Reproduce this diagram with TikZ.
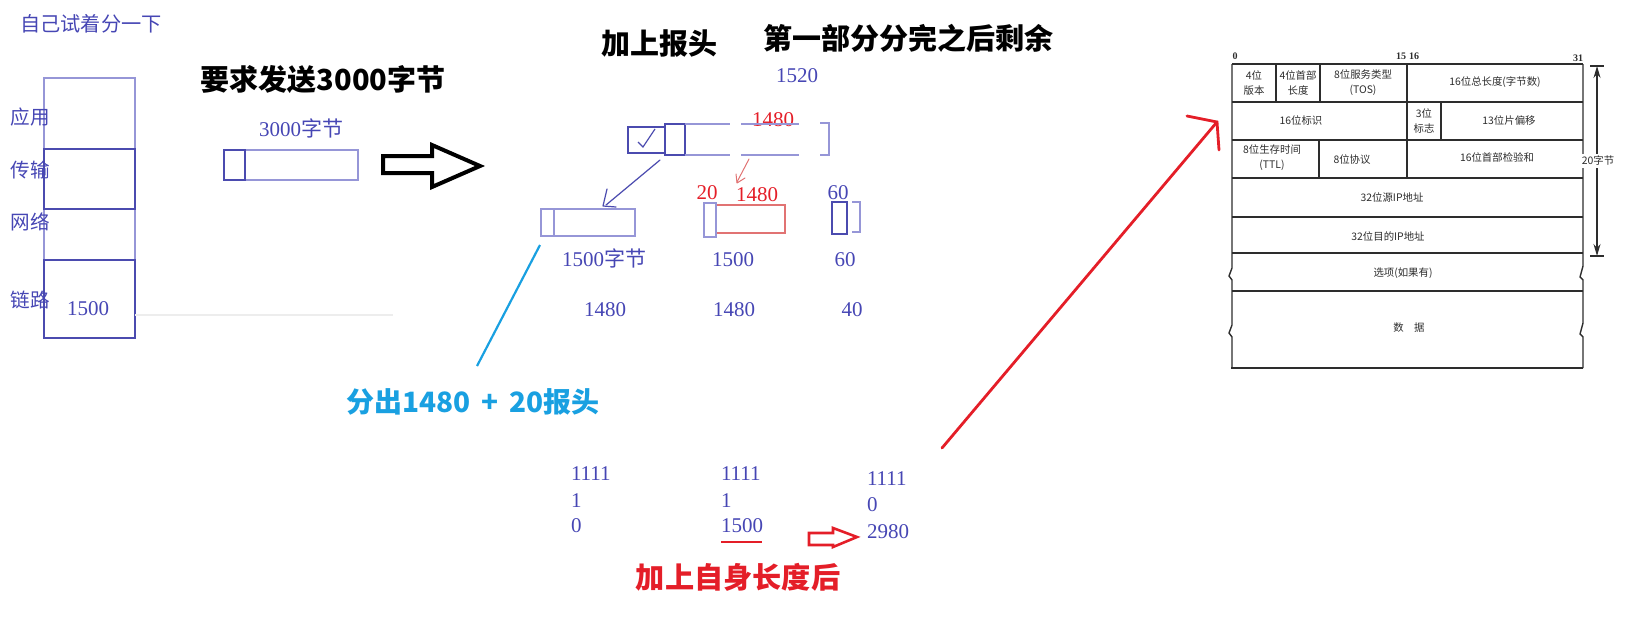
\documentclass[tikz,border=0pt]{standalone}
\usepackage{fontspec}
\setmainfont{Liberation Serif}
\newfontfamily\cjk{Noto Sans CJK SC}
\usetikzlibrary{arrows.meta}
\definecolor{tblue}{RGB}{70,70,180}
\definecolor{lblue}{RGB}{150,150,215}
\definecolor{dblue}{RGB}{75,75,175}
\definecolor{tred}{RGB}{228,30,40}
\definecolor{lred}{RGB}{225,115,115}
\definecolor{tcyan}{RGB}{25,160,225}
\definecolor{tbl}{RGB}{45,45,45}
\newcommand{\zh}[1]{{\cjk #1}}
\begin{document}
\begin{tikzpicture}[x=0.5pt,y=-0.5pt,
  every node/.style={inner sep=0pt, outer sep=0pt},
  lab/.style={font=\fontsize{10.5}{12}\selectfont, text=tblue},
  zhlab/.style={font=\cjk\fontsize{9.8}{11}\selectfont, text=tblue},
  big/.style={font=\cjk\bfseries\fontsize{14.5}{16}\selectfont},
  tb/.style={font=\cjk\fontsize{5.2}{7.5}\selectfont, align=center, text=tbl},
  tbnum/.style={font=\bfseries\fontsize{5}{6}\selectfont, text=tbl},
  lbox/.style={draw=lblue, line width=0.6pt},
  dbox/.style={draw=dblue, line width=0.75pt},
  tline/.style={draw=tbl, line width=0.7pt},
  hollow/.style={draw=black, line width=2pt, line join=miter},
]
\useasboundingbox (0,0) rectangle (1637,632);

% ---------- left: layer stack ----------
\node[font=\cjk\fontsize{10.1}{12}\selectfont, text=tblue] (self) at (91,24) {自己试着分一下};
\draw[lbox] (44,78) rectangle (135,338);
\draw[dbox] (44,149) rectangle (135,209);
\draw[dbox] (44,260) rectangle (135,338);
\draw[draw=black!7, line width=0.6pt] (135,315) -- (393,315);
\node[zhlab] (app) at (30,117) {应用};
\node[zhlab] (trans) at (30,170) {传输};
\node[zhlab] (net) at (30,222) {网络};
\node[zhlab] (link) at (30,300) {链路};
\node[lab] (mtu) at (88,309) {1500};

% ---------- send 3000 bytes ----------
\node[big] (req) at (323,80) {要求发送3000字节};
\node[lab] (l3000) at (301,128) {3000\zh{字节}};
\draw[lbox] (224,150) rectangle (358,180);
\draw[dbox] (224,150) rectangle (245,180);
\draw[hollow] (383,156) -- (432,156) -- (432,145) -- (480,166) -- (432,187) -- (432,173) -- (383,173) -- cycle;

% ---------- titles ----------
\node[big] (addhdr) at (659,44) {加上报头};
\node[big] (rest) at (908,38) {第一部分分完之后剩余};
\node[lab] (l1520) at (797,76) {1520};

% ---------- top packet ----------
\node[lab, text=tred] (r1480a) at (773,120) {1480};
\draw[draw=dblue, line width=0.6pt] (628,127) rectangle (665,153);
\draw[draw=dblue, line width=0.6pt] (638,142) -- (643,147) -- (655,129);
\draw[draw=dblue, line width=0.9pt] (665,124) rectangle (685,155);
\draw[lbox] (685,124) -- (730,124) (741,124) -- (799,124);
\draw[lbox] (685,155) -- (730,155) (741,155) -- (799,155);
\draw[lbox] (820,123) -- (829,123) -- (829,155) -- (820,155);

% ---------- fragments ----------
\draw[lbox] (541,209) rectangle (635,236);
\draw[lbox] (554,209) -- (554,236);
\node[lab] (l1500b) at (604,258) {1500\zh{字节}};
\node[lab] (l1480a) at (605,310) {1480};

\node[lab, text=tred] (r20) at (707,193) {20};
\node[lab, text=tred] (r1480b) at (757,195) {1480};
\draw[draw=lred, line width=0.6pt] (716,205) rectangle (785,233);
\draw[draw=lblue, line width=0.7pt] (704,203) rectangle (716,237);
\node[lab] (m1500) at (733,260) {1500};
\node[lab] (m1480) at (734,310) {1480};

\node[lab] (t60) at (838,193) {60};
\draw[draw=dblue, line width=0.6pt] (832,202) rectangle (847,234);
\draw[lbox] (852,202) -- (860,202) -- (860,232) -- (852,232);
\node[lab] (b60) at (845,260) {60};
\node[lab] (b40) at (852,310) {40};

% ---------- hand-drawn arrows ----------
\coordinate (ba1) at (660,160);
\coordinate (ba2) at (606,205);
\draw[draw=dblue, line width=0.6pt, line cap=round] (ba1) -- (ba2);
\draw[draw=dblue, line width=0.6pt, line cap=round, line join=round] (607,189) -- (603,206) -- (616,207);
\coordinate (ra1) at (749,159);
\coordinate (ra2) at (737,182);
\draw[draw=lred, line width=0.5pt, line cap=round] (ra1) -- (ra2);
\draw[draw=lred, line width=0.5pt, line cap=round, line join=round] (736,174) -- (737,183) -- (745,178);

% ---------- cyan note ----------
\node[font=\cjk\bfseries\fontsize{14}{16}\selectfont, text=tcyan] (split) at (473,402) {分出1480 \,+\, 20报头};
\coordinate (cy1) at (540,245);
\coordinate (cy2) at (477,366);
\draw[draw=tcyan, line width=1.1pt] (cy1) -- (cy2);

% ---------- MF / offset columns ----------
\node[lab, anchor=west] (c1a) at (571,474) {1111};
\node[lab, anchor=west] (c1b) at (571,501) {1};
\node[lab, anchor=west] (c1c) at (571,526) {0};
\node[lab, anchor=west] (c2a) at (721,474) {1111};
\node[lab, anchor=west] (c2b) at (721,501) {1};
\node[lab, anchor=west] (c2c) at (721,526) {1500};
\draw[draw=tred, line width=0.6pt] (721,542) -- (762,542);
\node[lab, anchor=west] (c3a) at (867,479) {1111};
\node[lab, anchor=west] (c3b) at (867,505) {0};
\node[lab, anchor=west] (c3c) at (867,532) {2980};
\draw[draw=tred, line width=1.3pt, line join=miter] (809,533) -- (833,533) -- (833,528) -- (857,537) -- (833,547) -- (833,545) -- (809,545) -- cycle;
\node[font=\cjk\bfseries\fontsize{14.6}{16}\selectfont, text=tred] (addlen) at (738,577) {加上自身长度后};

% ---------- long red arrow ----------
\coordinate (la1) at (942,448);
\coordinate (la2) at (1217,122);
\draw[draw=tred, line width=1.4pt, line cap=round] (la1) -- (la2);
\draw[draw=tred, line width=1.4pt, line cap=round, line join=miter] (1187,116) -- (la2) -- (1219,150);

% ---------- IP header table ----------
\node[tbnum] (b0) at (1235,56) {0};
\node[tbnum] (b15) at (1401,56) {15};
\node[tbnum] (b16) at (1414,56) {16};
\node[tbnum] (b31) at (1578,58) {31};
% outline
\draw[tline] (1232,64) -- (1583,64);
\draw[tline] (1232,64) -- (1232,268) -- (1229,276) -- (1232,280) -- (1232,325) -- (1229,333) -- (1232,337) -- (1232,368);
\draw[tline] (1583,64) -- (1583,266) -- (1580,277) -- (1583,280) -- (1583,323) -- (1580,334) -- (1583,337) -- (1583,368);
\draw[tline] (1231,368) -- (1583,368);
\foreach \yy in {102,140,178,217,253,291} \draw[tline] (1232,\yy) -- (1583,\yy);
% row verticals
\draw[tline] (1276,64) -- (1276,102);
\draw[tline] (1320,64) -- (1320,102);
\draw[tline] (1407,64) -- (1407,178);
\draw[tline] (1441,102) -- (1441,140);
\draw[tline] (1319,140) -- (1319,178);
% texts
\node[tb] (f1) at (1254,83) {4位\\版本};
\node[tb] (f2) at (1298,83) {4位首部\\长度};
\node[tb] (f3) at (1363,83) {8位服务类型\\(TOS)};
\node[tb] (f4) at (1495,82) {16位总长度(字节数)};
\node[tb] (f5) at (1301,121) {16位标识};
\node[tb] (f6) at (1424,121) {3位\\标志};
\node[tb] (f7) at (1509,121) {13位片偏移};
\node[tb] (f8) at (1272,158) {8位生存时间\\(TTL)};
\node[tb] (f9) at (1352,160) {8位协议};
\node[tb] (f10) at (1497,158) {16位首部检验和};
\node[tb] (f11) at (1392,198) {32位源IP地址};
\node[tb] (f12) at (1388,236) {32位目的IP地址};
\node[tb] (f13) at (1403,273) {选项(如果有)};
\node[tb] (f14) at (1409,328) {数\quad 据};
% dimension
\coordinate (d1) at (1597,66);
\coordinate (d2) at (1597,256);
\draw[tline] (1590,66) -- (1604,66);
\draw[tline] (1590,256) -- (1604,256);
\draw[draw=tbl, line width=0.7pt, {Stealth[length=6pt,width=3.5pt]}-{Stealth[length=6pt,width=3.5pt]}] (d1) -- (d2);
\node[tb, fill=white, inner sep=1pt] (d20) at (1598,161) {20字节};
\end{tikzpicture}
\end{document}
